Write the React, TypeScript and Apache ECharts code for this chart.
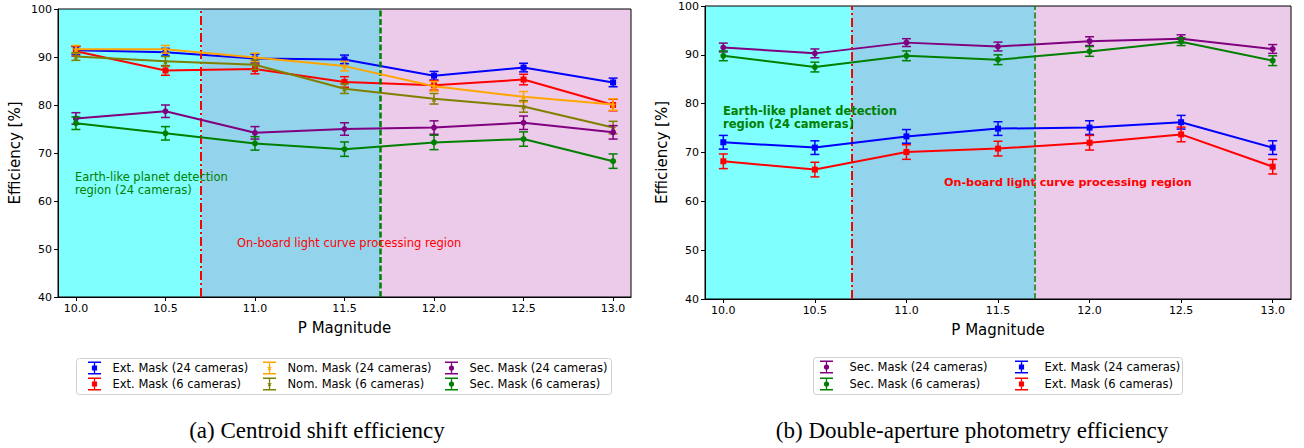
import React, { useEffect, useRef } from 'react';
import * as echarts from 'echarts';

const FONT = 'DejaVu Sans';

// x categories (P magnitude)
const magnitudes = [10.0, 10.5, 11.0, 11.5, 12.0, 12.5, 13.0];
const xRange = [9.9, 13.1];
const yRange = [40, 100];
const regionEdges = [10.7, 11.7];

// (a) Centroid shift efficiency
const csExt24 = [91.4, 91.0, 89.7, 89.5, 86.1, 87.8, 84.7];
const csExt24Err = [0.8, 0.8, 0.9, 0.9, 0.9, 0.9, 0.9];
const csExt6 = [91.2, 87.2, 87.5, 84.8, 84.1, 85.3, 80.0];
const csExt6Err = [1.0, 1.0, 1.0, 1.1, 1.0, 1.1, 1.2];
const csNom24 = [91.6, 91.6, 89.9, 88.1, 83.9, 81.7, 80.1];
const csNom24Err = [0.8, 0.8, 0.9, 1.0, 1.0, 1.1, 1.2];
const csNom6 = [90.1, 89.1, 88.4, 83.4, 81.3, 79.7, 75.3];
const csNom6Err = [0.8, 1.0, 1.0, 1.0, 1.1, 1.2, 1.3];
const csSec24 = [77.2, 78.7, 74.2, 75.0, 75.3, 76.3, 74.3];
const csSec24Err = [1.2, 1.3, 1.3, 1.3, 1.4, 1.4, 1.4];
const csSec6 = [76.2, 74.1, 72.0, 70.8, 72.2, 72.9, 68.3];
const csSec6Err = [1.3, 1.4, 1.4, 1.5, 1.5, 1.5, 1.5];

// (b) Double-aperture photometry efficiency
const daSec24 = [91.5, 90.3, 92.5, 91.7, 92.8, 93.3, 91.2];
const daSec24Err = [0.9, 0.9, 0.8, 0.9, 0.9, 0.8, 0.9];
const daSec6 = [89.8, 87.5, 89.8, 89.0, 90.7, 92.7, 88.8];
const daSec6Err = [1.0, 1.0, 1.0, 1.0, 1.0, 0.8, 1.0];
const daExt24 = [72.1, 71.0, 73.3, 74.9, 75.1, 76.2, 71.0];
const daExt24Err = [1.4, 1.4, 1.4, 1.4, 1.4, 1.4, 1.4];
const daExt6 = [68.2, 66.5, 70.1, 70.8, 72.0, 73.7, 67.1];
const daExt6Err = [1.5, 1.5, 1.5, 1.5, 1.5, 1.5, 1.5];

const NAMES = {
  ext24: 'Ext. Mask (24 cameras)',
  ext6: 'Ext. Mask (6 cameras)',
  nom24: 'Nom. Mask (24 cameras)',
  nom6: 'Nom. Mask (6 cameras)',
  sec24: 'Sec. Mask (24 cameras)',
  sec6: 'Sec. Mask (6 cameras)',
};

const COLORS = {
  ext24: '#0000ff',
  ext6: '#ff0000',
  nom24: '#ffa500',
  nom6: '#808000',
  sec24: '#800080',
  sec6: '#008000',
};

const bandColors = ['#80ffff', '#93d4ec', '#ebcbe9'];

const STAR =
  'path://M0,-1L0.2245,-0.309L0.951,-0.309L0.363,0.118L0.588,0.809L0,0.382L-0.588,0.809L-0.363,0.118L-0.951,-0.309L-0.2245,-0.309Z';

const ICON_BAR = 'M0 0H12V1.3H0Z M5.4 0H6.6V12H5.4Z M0 10.7H12V12H0Z ';
const ICON_SQUARE = 'path://' + ICON_BAR + 'M3.6 3.6H8.4V8.4H3.6Z';
const ICON_STAR = 'path://' + ICON_BAR + 'M6 3.4L6.6 5.2L8.4 5.2L7 6.3L7.5 8.2L6 7.1L4.5 8.2L5 6.3L3.6 5.2L5.4 5.2Z';
const ICON_CIRCLE = 'path://' + ICON_BAR + 'M3.6 6A2.4 2.4 0 1 1 8.4 6A2.4 2.4 0 1 1 3.6 6Z';

const MARKERS: Record<string, { symbol: string; size: number; icon: string }> = {
  ext: { symbol: 'rect', size: 6, icon: ICON_SQUARE },
  nom: { symbol: STAR, size: 7, icon: ICON_STAR },
  sec: { symbol: 'circle', size: 6, icon: ICON_CIRCLE },
};

function markerOf(key: string) {
  return MARKERS[key.replace(/\d+/, '')];
}

function errorSeries(idx: number, key: string, vals: number[], errs: number[], z: number) {
  const color = (COLORS as any)[key];
  return {
    type: 'custom',
    name: (NAMES as any)[key],
    xAxisIndex: idx,
    yAxisIndex: idx,
    z,
    silent: true,
    data: magnitudes.map((m, i) => [m, vals[i], errs[i]]),
    encode: { x: 0, y: 1 },
    renderItem: (params: any, api: any) => {
      const x = api.value(0);
      const y = api.value(1);
      const e = api.value(2);
      const lo = api.coord([x, y - e]);
      const hi = api.coord([x, y + e]);
      const w = 4.5;
      const st = { stroke: color, lineWidth: 1.5 };
      return {
        type: 'group',
        children: [
          { type: 'line', shape: { x1: lo[0], y1: lo[1], x2: hi[0], y2: hi[1] }, style: st },
          { type: 'line', shape: { x1: lo[0] - w, y1: lo[1], x2: lo[0] + w, y2: lo[1] }, style: st },
          { type: 'line', shape: { x1: hi[0] - w, y1: hi[1], x2: hi[0] + w, y2: hi[1] }, style: st },
        ],
      };
    },
  };
}

function lineSeries(idx: number, key: string, vals: number[], z: number) {
  const color = (COLORS as any)[key];
  const mk = markerOf(key);
  return {
    type: 'line',
    name: (NAMES as any)[key],
    xAxisIndex: idx,
    yAxisIndex: idx,
    z,
    silent: true,
    data: magnitudes.map((m, i) => [m, vals[i]]),
    symbol: mk.symbol,
    symbolSize: mk.size,
    showSymbol: true,
    itemStyle: { color, borderWidth: 0 },
    lineStyle: { color, width: 2 },
  };
}

function bandSeries(idx: number, dashWidth: number) {
  return {
    type: 'custom',
    name: 'bands' + idx,
    xAxisIndex: idx,
    yAxisIndex: idx,
    z: -5,
    silent: true,
    data: [
      [xRange[0], regionEdges[0]],
      [regionEdges[0], regionEdges[1]],
      [regionEdges[1], xRange[1]],
    ],
    encode: { x: [0, 1] },
    renderItem: (params: any, api: any) => {
      const p0 = api.coord([api.value(0), yRange[1]]);
      const p1 = api.coord([api.value(1), yRange[0]]);
      return {
        type: 'rect',
        shape: { x: p0[0], y: p0[1], width: p1[0] - p0[0], height: p1[1] - p0[1] },
        style: { fill: bandColors[params.dataIndex] },
      };
    },
    markLine: {
      silent: true,
      symbol: ['none', 'none'],
      label: { show: false },
      data: [
        { xAxis: regionEdges[0], lineStyle: { color: '#ff0000', width: 2, type: [9, 3, 2, 3] } },
        { xAxis: regionEdges[1], lineStyle: { color: '#008000', width: dashWidth, type: [6, 2.5] } },
      ],
    },
  };
}

function makeXAxis(idx: number) {
  return {
    type: 'value',
    gridIndex: idx,
    min: xRange[0],
    max: xRange[1],
    axisLine: { show: true, onZero: false, lineStyle: { color: '#000', width: 1 } },
    axisTick: { show: true, length: 4, customValues: magnitudes, lineStyle: { color: '#000' } },
    axisLabel: {
      customValues: magnitudes,
      formatter: (v: number) => v.toFixed(1),
      fontSize: 11,
      fontFamily: FONT,
      color: '#000',
      margin: 6,
    },
    splitLine: { show: false },
    name: 'P Magnitude',
    nameLocation: 'middle',
    nameGap: 23,
    nameTextStyle: { fontSize: 15, fontFamily: FONT, color: '#000' },
  };
}

function makeYAxis(idx: number) {
  return {
    type: 'value',
    gridIndex: idx,
    min: yRange[0],
    max: yRange[1],
    interval: 10,
    axisLine: { show: true, lineStyle: { color: '#000', width: 1 } },
    axisTick: { show: true, length: 4, lineStyle: { color: '#000' } },
    axisLabel: { fontSize: 11, fontFamily: FONT, color: '#000', margin: 6 },
    splitLine: { show: false },
    name: 'Efficiency [%]',
    nameLocation: 'middle',
    nameGap: 36,
    nameTextStyle: { fontSize: 15, fontFamily: FONT, color: '#000' },
  };
}

function legendItem(key: string) {
  return {
    name: (NAMES as any)[key],
    icon: markerOf(key).icon,
    itemStyle: { color: (COLORS as any)[key], borderWidth: 0 },
  };
}

function makeLegend(left: number, top: number, itemWidth: number, gap: number, keys: string[]) {
  return {
    orient: 'vertical',
    left,
    top,
    padding: 0,
    itemGap: gap,
    itemWidth,
    itemHeight: 13,
    selectedMode: false,
    textStyle: { fontSize: 11.5, fontFamily: FONT, color: '#000', lineHeight: 13 },
    itemStyle: { borderWidth: 0 },
    data: keys.map(legendItem),
  };
}

function text(x: number, y: number, t: string, color: string, weight: string, size = 11.5) {
  return {
    type: 'text',
    x,
    y,
    z: 10,
    silent: true,
    style: {
      text: t,
      fill: color,
      fontSize: size,
      fontFamily: FONT,
      fontWeight: weight,
      lineHeight: 13,
      align: 'left',
      verticalAlign: 'top',
    },
  };
}

export default function App() {
  const ref = useRef<HTMLDivElement>(null);
  useEffect(() => {
    document.body.style.margin = '0';
    const chart = echarts.init(ref.current!, null, { renderer: 'svg' });
    const option: any = {
      animation: false,
      backgroundColor: '#ffffff',
      grid: [
        { left: 58, top: 9, width: 573, height: 288, show: true, borderColor: '#000', borderWidth: 1, backgroundColor: 'transparent', z: 1 },
        { left: 705, top: 6, width: 586, height: 293, show: true, borderColor: '#000', borderWidth: 1, backgroundColor: 'transparent', z: 1 },
      ],
      xAxis: [makeXAxis(0), makeXAxis(1)],
      yAxis: [makeYAxis(0), makeYAxis(1)],
      legend: [
        makeLegend(88, 361.5, 26, 3, ['ext24', 'ext6']),
        makeLegend(263, 361.5, 26, 3, ['nom24', 'nom6']),
        makeLegend(445, 361.5, 26, 3, ['sec24', 'sec6']),
        makeLegend(820, 360.5, 36, 4, ['sec24', 'sec6']),
        makeLegend(1015, 360.5, 36, 4, ['ext24', 'ext6']),
      ],
      series: [
        bandSeries(0, 2.5),
        bandSeries(1, 1.5),
        errorSeries(0, 'ext24', csExt24, csExt24Err, 3),
        lineSeries(0, 'ext24', csExt24, 3),
        errorSeries(0, 'ext6', csExt6, csExt6Err, 4),
        lineSeries(0, 'ext6', csExt6, 4),
        errorSeries(0, 'nom24', csNom24, csNom24Err, 5),
        lineSeries(0, 'nom24', csNom24, 5),
        errorSeries(0, 'nom6', csNom6, csNom6Err, 6),
        lineSeries(0, 'nom6', csNom6, 6),
        errorSeries(0, 'sec24', csSec24, csSec24Err, 7),
        lineSeries(0, 'sec24', csSec24, 7),
        errorSeries(0, 'sec6', csSec6, csSec6Err, 8),
        lineSeries(0, 'sec6', csSec6, 8),
        errorSeries(1, 'sec24', daSec24, daSec24Err, 3),
        lineSeries(1, 'sec24', daSec24, 3),
        errorSeries(1, 'sec6', daSec6, daSec6Err, 4),
        lineSeries(1, 'sec6', daSec6, 4),
        errorSeries(1, 'ext24', daExt24, daExt24Err, 5),
        lineSeries(1, 'ext24', daExt24, 5),
        errorSeries(1, 'ext6', daExt6, daExt6Err, 6),
        lineSeries(1, 'ext6', daExt6, 6),
      ],
      graphic: [
        { type: 'rect', z: 0, silent: true, shape: { x: 76.5, y: 358.5, width: 535, height: 36, r: 3 }, style: { fill: '#fff', stroke: '#d0d0d0', lineWidth: 1 } },
        { type: 'rect', z: 0, silent: true, shape: { x: 813.5, y: 357.5, width: 369, height: 37, r: 3 }, style: { fill: '#fff', stroke: '#d0d0d0', lineWidth: 1 } },
        text(75, 170.5, 'Earth-like planet detection\nregion (24 cameras)', '#008000', 'normal'),
        text(237, 236.5, 'On-board light curve processing region', '#ff0000', 'normal'),
        text(723, 104, 'Earth-like planet detection\nregion (24 cameras)', '#008000', 'bold', 11.5),
        text(944, 175.5, 'On-board light curve processing region', '#ff0000', 'bold', 11.2),
        {
          type: 'text', x: 317, y: 430, silent: true,
          style: { text: '(a) Centroid shift efficiency', fill: '#000', fontSize: 23, fontFamily: 'Liberation Serif', align: 'center', verticalAlign: 'middle' },
        },
        {
          type: 'text', x: 972, y: 430, silent: true,
          style: { text: '(b) Double-aperture photometry efficiency', fill: '#000', fontSize: 23, fontFamily: 'Liberation Serif', align: 'center', verticalAlign: 'middle' },
        },
      ],
    };
    chart.setOption(option);
    return () => chart.dispose();
  }, []);
  return <div ref={ref} style={{ width: 1304, height: 448 }} />;
}
